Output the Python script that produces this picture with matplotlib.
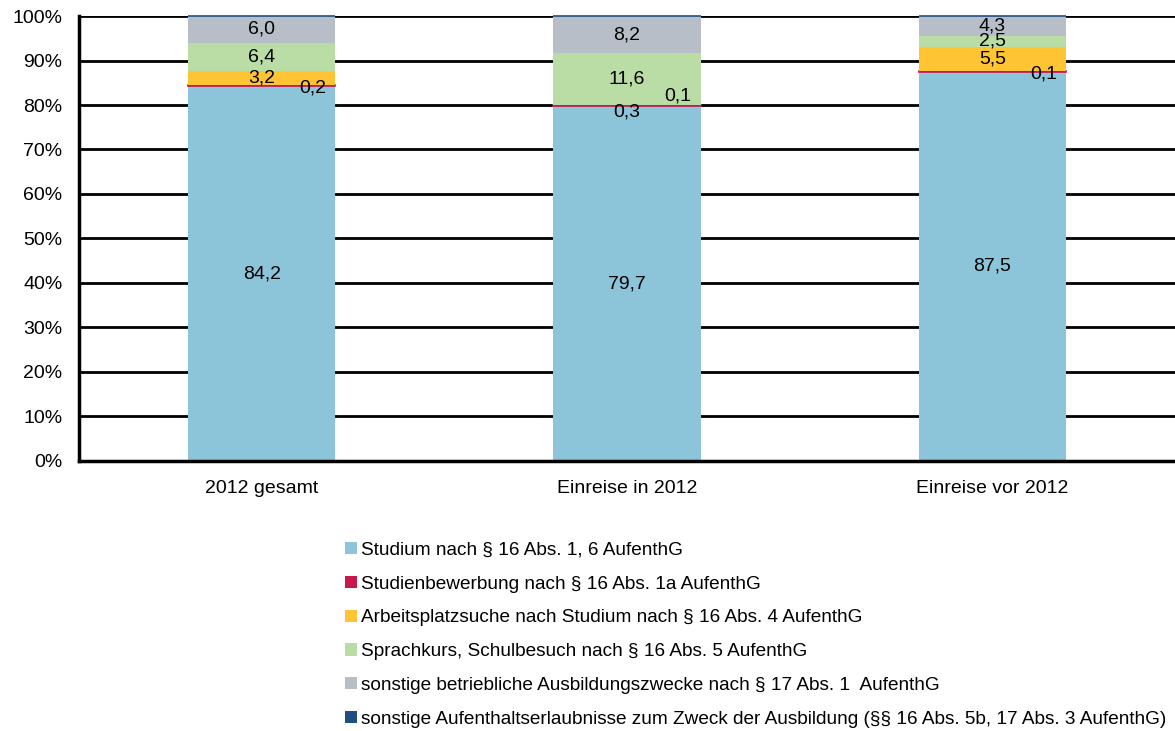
import matplotlib.pyplot as plt
from matplotlib.patches import Patch

plt.rcParams['font.family'] = ['Liberation Sans', 'DejaVu Sans']

# Data (percent)
groups = ['2012 gesamt', 'Einreise in 2012', 'Einreise vor 2012']
studium = [84.2, 79.7, 87.5]
bewerbung = [0.2, 0.3, 0.1]
arbeitsplatz = [3.2, 0.1, 5.5]
sprachkurs = [6.4, 11.6, 2.5]
betrieblich = [6.0, 8.2, 4.3]
sonstige = [0.1, 0.1, 0.1]

series_names = [
    'Studium nach § 16 Abs. 1, 6 AufenthG',
    'Studienbewerbung nach § 16 Abs. 1a AufenthG',
    'Arbeitsplatzsuche nach Studium nach § 16 Abs. 4 AufenthG',
    'Sprachkurs, Schulbesuch nach § 16 Abs. 5 AufenthG',
    'sonstige betriebliche Ausbildungszwecke nach § 17 Abs. 1  AufenthG',
    'sonstige Aufenthaltserlaubnisse zum Zweck der Ausbildung (§§ 16 Abs. 5b, 17 Abs. 3 AufenthG)',
]
series = [studium, bewerbung, arbeitsplatz, sprachkurs, betrieblich, sonstige]
colors = ['#8cc4da', '#c8174f', '#ffc433', '#badda5', '#b8bec7', '#1f4f80']

# label offsets (dx in bar units, dy in percent) for the tiny segments
offsets = {(1, 0): (0.14, -0.5), (1, 1): (0, -1.5), (2, 1): (0.14, 2.0), (1, 2): (0.14, -0.5)}

fig = plt.figure(figsize=(11.75, 7.31), dpi=100)
ax = fig.add_axes([0.0672, 0.3694, 0.9328, 0.6087])

x = list(range(len(groups)))
bottom = [0, 0, 0]
for i, (vals, name, c) in enumerate(zip(series, series_names, colors)):
    # thin segments get an edge in their own colour so they stay visible
    lw = 1.2 if i in (1, 5) else 0
    ax.bar(x, vals, width=0.404, bottom=bottom, color=c, edgecolor=c, linewidth=lw,
           label=name, zorder=2, clip_on=False)
    if i < 5:
        for j, v in enumerate(vals):
            dx, dy = offsets.get((i, j), (0, 0))
            ax.text(x[j] + dx, bottom[j] + v / 2 + dy, f'{v:.1f}'.replace('.', ','),
                    ha='center', va='center', fontsize=14, zorder=3)
    bottom = [b + v for b, v in zip(bottom, vals)]

ax.set_xlim(-0.5, 2.5)
ax.set_ylim(0, 100)
ax.set_yticks(range(0, 101, 10))
ax.set_yticklabels([f'{t}%' for t in range(0, 101, 10)], fontsize=14)
ax.set_xticks(x)
ax.set_xticklabels(groups, fontsize=14)
ax.tick_params(axis='both', length=0)
ax.tick_params(axis='y', pad=12)
ax.tick_params(axis='x', pad=14)
ax.yaxis.grid(True, color='black', linewidth=2, zorder=0)
ax.set_axisbelow(True)
for s in ['top', 'right']:
    ax.spines[s].set_visible(False)
for s in ['left', 'bottom']:
    ax.spines[s].set_linewidth(2.5)

handles = [Patch(facecolor=c, edgecolor='none') for c in colors]
fig.legend(handles, series_names, loc='upper left', bbox_to_anchor=(0.287, 0.269),
           frameon=False, fontsize=13.7, handlelength=0.62, handleheight=0.62,
           handletextpad=0.25, labelspacing=0.88, borderaxespad=0)

fig.savefig('out.png', dpi=100)
